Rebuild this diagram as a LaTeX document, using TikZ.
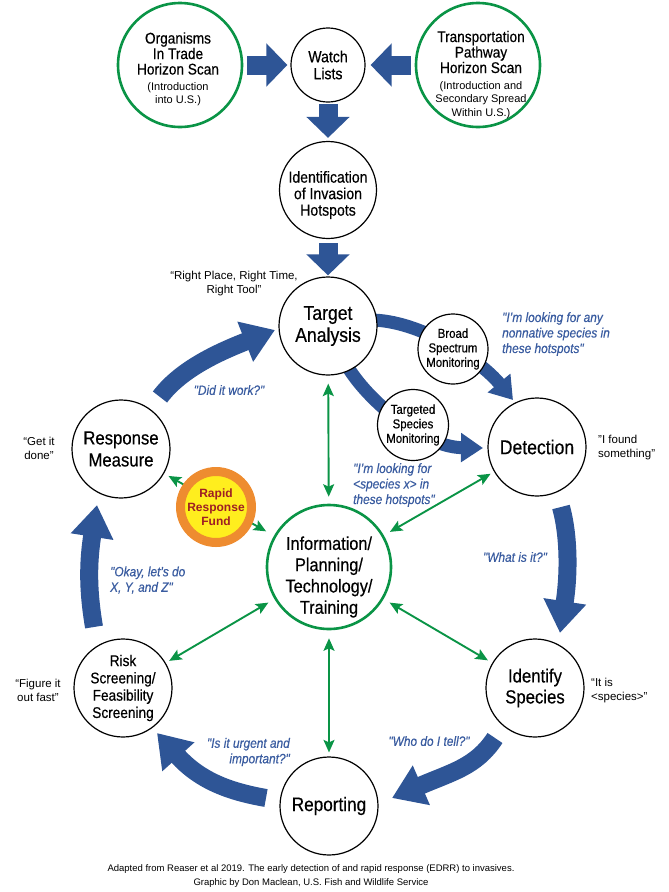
\documentclass[tikz,border=0pt]{standalone}
\usepackage{fontspec}
\setmainfont{Liberation Sans}
\newfontfamily\cnd{Liberation Sans}[FakeStretch=0.88,FakeBold=0.4]
\usetikzlibrary{arrows.meta,backgrounds}
\definecolor{myblue}{RGB}{46,85,150}
\definecolor{qblue}{RGB}{58,92,160}
\definecolor{mygreen}{RGB}{10,148,70}
\definecolor{myorange}{RGB}{238,140,48}
\definecolor{myyellow}{RGB}{255,238,30}
\definecolor{fundred}{RGB}{158,30,36}
\begin{document}
\begin{tikzpicture}[x=1pt,y=-1pt,
  bc/.style={circle,draw=black,line width=1.2pt,fill=white,inner sep=0pt,align=center},
  gc/.style={circle,draw=mygreen,line width=2.6pt,fill=white,inner sep=0pt,align=center},
  blockarrow/.style={draw=myblue,line width=19pt,-{Triangle[length=21pt,width=42pt]}},
  bigarrow/.style={draw=myblue,line width=18pt,-{Triangle[length=32pt,width=41pt]}},
  smallarrow/.style={draw=myblue,line width=13pt,-{Triangle[length=22pt,width=28pt]}},
  garrow/.style={draw=mygreen,line width=1.9pt,{Stealth[length=12.5pt,width=11pt,inset=2.5pt]}-{Stealth[length=12.5pt,width=11pt,inset=2.5pt]}},
  blk/.style={font=\fontsize{11.5}{14}\selectfont,align=center,inner sep=0pt},
  bq/.style={font=\cnd\itshape\fontsize{13.5}{15.5}\selectfont,text=qblue,align=center,inner sep=0pt},
  maintxt/.style={font=\cnd\fontsize{15.5}{15.5}\selectfont,align=center,inner sep=0pt},
  subtxt/.style={font=\fontsize{11}{13.5}\selectfont,align=center,inner sep=0pt},
]
\useasboundingbox (0,0) rectangle (669,892);

% circles
\node[gc, minimum size=124pt] (org) at (180,65) {};
\node[maintxt] (orgt) at (178,53.5) {Organisms\\In Trade\\Horizon Scan};
\node[subtxt] (orgs) at (178,94) {(Introduction\\into U.S.)};
\node[gc, minimum size=124pt] (trans) at (478,65) {};
\node[maintxt] (transt) at (481,52) {Transportation\\Pathway\\Horizon Scan};
\node[subtxt] (transs) at (481,100) {(Introduction and\\Secondary Spread\\Within U.S.)};

\node[bc, minimum size=74pt, font=\cnd\fontsize{16}{17}\selectfont] (watch) at (328,65) {Watch\\Lists};
\node[bc, minimum size=97pt] (ident) at (328,190) {};
\node[font=\cnd\fontsize{16}{16.5}\selectfont, align=center, inner sep=0pt] (identt) at (328,195) {Identification\\of Invasion\\Hotspots};
\node[bc, minimum size=98pt, font=\cnd\fontsize{20}{22}\selectfont] (target) at (328,326) {Target\\Analysis};
\node[bc, minimum size=98pt, font=\cnd\fontsize{20}{22}\selectfont] (detect) at (537,447) {Detection};
\node[bc, minimum size=98pt, font=\cnd\fontsize{19}{22}\selectfont] (response) at (121,449) {Response\\Measure};
\node[gc, minimum size=124pt] (info) at (329,567) {};
\node[font=\cnd\fontsize{18.5}{21.3}\selectfont, align=center, inner sep=0pt] (infot) at (329,577) {Information/\\Planning/\\Technology/\\Training};
\node[bc, minimum size=98pt, font=\cnd\fontsize{15.5}{17.3}\selectfont] (risk) at (123,688) {Risk\\Screening/\\Feasibility\\Screening};
\node[bc, minimum size=98pt, font=\cnd\fontsize{19}{21}\selectfont] (identify) at (535,688) {Identify\\Species};
\node[bc, minimum size=98pt, font=\cnd\fontsize{19.5}{22}\selectfont] (reporting) at (329,806) {Reporting};
\node[bc, minimum size=70pt, font=\cnd\fontsize{13}{14.5}\selectfont] (broad) at (453,349) {Broad\\Spectrum\\Monitoring};
\node[bc, minimum size=71pt, font=\cnd\fontsize{13}{14.5}\selectfont] (targeted) at (413,425) {Targeted\\Species\\Monitoring};

% blue arrows behind the circles
\coordinate (a1s) at (160,397); \coordinate (a1e) at (275,330);
\coordinate (a2s) at (370,320); \coordinate (a2e) at (513,400);
\coordinate (a3s) at (345,362); \coordinate (a3e) at (483,448);
\coordinate (a4s) at (561,507); \coordinate (a4e) at (560,633);
\coordinate (a5s) at (495,738); \coordinate (a5e) at (392,798);
\coordinate (a6s) at (266,798); \coordinate (a6e) at (157,733);
\coordinate (a7s) at (94,627);  \coordinate (a7e) at (97,505);
\begin{pgfonlayer}{background}
\draw[blockarrow,shorten <=4pt,shorten >=3pt] (org) -- (watch);
\draw[blockarrow,shorten <=4pt,shorten >=5pt] (trans) -- (watch);
\draw[blockarrow,shorten <=1pt,shorten >=3pt] (watch) -- (ident);
\draw[blockarrow,shorten <=4pt,shorten >=1pt] (ident) -- (target);
\draw[bigarrow] (a1s) .. controls (181,369) and (219,352) .. (a1e);
\draw[smallarrow] (a2s) .. controls (420,320) and (480,360) .. (a2e);
\draw[smallarrow] (a3s) .. controls (362,395) and (420,447) .. (a3e);
\draw[bigarrow] (a4s) .. controls (569,536) and (569,574) .. (a4e);
\draw[bigarrow] (a5s) .. controls (476,767) and (452,772) .. (a5e);
\draw[bigarrow] (a6s) .. controls (232,792) and (201,782) .. (a6e);
\draw[bigarrow] (a7s) .. controls (89,597) and (87,569) .. (a7e);
\end{pgfonlayer}

% green arrows
\draw[garrow,shorten <=8pt,shorten >=7pt] (target) -- (info);
\draw[garrow,shorten <=8pt,shorten >=4pt] (info) -- (reporting);
\draw[garrow,shorten <=7pt,shorten >=4pt] (info) -- (detect);
\draw[garrow,shorten <=7pt,shorten >=5pt] (info) -- (identify);
\draw[garrow,shorten <=7pt,shorten >=4pt] (info) -- (risk);
\draw[garrow,shorten <=5pt,shorten >=9pt] (response) -- (info);

\node[circle, fill=myyellow, draw=myorange, line width=9pt, minimum size=71pt, inner sep=0pt, align=center, font=\bfseries\fontsize{12}{14}\selectfont, text=fundred] (fund) at (216,507) {Rapid\\Response\\Fund};

% quotes
\node[blk] (q1) at (234,284) {“Right Place, Right Time,\\Right Tool"};
\node[bq, align=left, anchor=west] (q2) at (502,334) {"I’m looking for any\\nonnative species in\\these hotspots"};
\node[blk, align=left, anchor=west] (q3) at (598,448) {"I found\\something"};
\node[bq] (q4) at (229,390) {"Did it work?"};
\node[blk] (q5) at (39,448) {“Get it\\done"};
\node[bq, align=left, anchor=west] (q6) at (353,485) {"I’m looking for\\<species x> in\\these hotspots"};
\node[bq] (q7) at (515,557) {"What is it?"};
\node[bq, align=left, anchor=west] (q8) at (110,580) {"Okay, let’s do\\X, Y, and Z"};
\node[blk] (q9) at (38,690) {“Figure it\\out fast"};
\node[blk, align=left, anchor=west] (q10) at (591,691) {“It is\\<species>"};
\node[bq, align=right, anchor=east] (q11) at (290,752) {"Is it urgent and\\important?"};
\node[bq] (q12) at (429,741) {"Who do I tell?"};

\node[font=\fontsize{9.5}{14}\selectfont, align=center, inner sep=0pt] (cap) at (311,876) {Adapted from Reaser et al 2019. The early detection of and rapid response (EDRR) to invasives.\\Graphic by Don Maclean, U.S. Fish and Wildlife Service};
\end{tikzpicture}
\end{document}
